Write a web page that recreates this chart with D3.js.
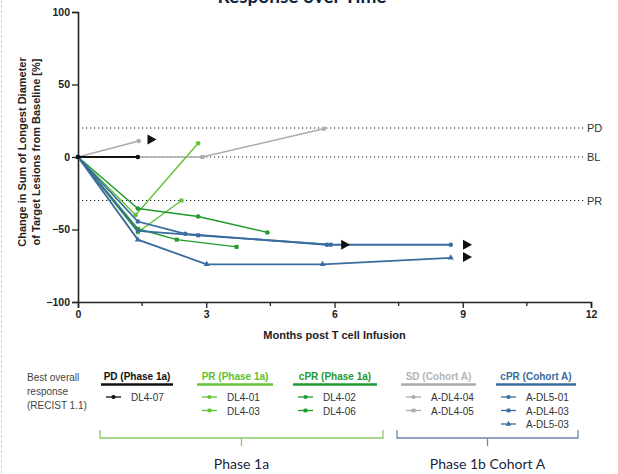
<!DOCTYPE html>
<html>
<head>
<meta charset="utf-8">
<script src="https://cdn.jsdelivr.net/npm/d3@7"></script>
<style>
  body { margin: 0; background: #fff; }
  svg { display: block; font-family: "Liberation Sans", Arial, sans-serif; }
</style>
</head>
<body>
<div id="chart"></div>
<script>
// patients, grouped by best overall response
const seriesNames = ["DL4-07", "DL4-01", "DL4-03", "DL4-02", "DL4-06", "A-DL4-04", "A-DL4-05", "A-DL5-01", "A-DL4-03", "A-DL5-03"];
const seriesGroups = ["PD", "PR", "PR", "cPR1a", "cPR1a", "SD", "SD", "cPRA", "cPRA", "cPRA"];
const seriesMonths = [
  [0, 1.4],
  [0, 1.35, 2.81],
  [0, 1.4, 2.42],
  [0, 1.4, 2.81, 4.43],
  [0, 1.4, 2.31, 3.71],
  [0, 1.42],
  [0, 2.91, 5.75],
  [0, 1.4, 2.51, 5.82, 8.72],
  [0, 1.4, 2.81, 5.91],
  [0, 1.4, 3.01, 5.72, 8.72]
];
const seriesValues = [
  [0, 0],
  [0, -40, 9.5],
  [0, -52, -30],
  [0, -35.5, -41, -52],
  [0, -49.5, -57, -62],
  [0, 11],
  [0, 0, 19.5],
  [0, -44.5, -53, -60.5, -60.5],
  [0, -51, -54, -60.5],
  [0, -57, -74, -74, -69.5]
];
// ongoing-response arrows
const arrowMonths = [1.72, 6.25, 9.1, 9.1];
const arrowValues = [12, -60.5, -60.5, -69];

// reference lines
const refLabels = ["PD", "BL", "PR"];
const refValues = [20, 0, -30];

const xTicks = [0, 3, 6, 9, 12];
const xMinorTicks = [1.5, 4.5, 7.5, 10.5];
const yTicks = [-100, -50, 0, 50, 100];

// legend columns
const legendGroups = ["PD", "PR", "cPR1a", "SD", "cPRA"];
const legendTitles = ["PD (Phase 1a)", "PR (Phase 1a)", "cPR (Phase 1a)", "SD (Cohort A)", "cPR (Cohort A)"];
const groupColors = { PD: "#111111", PR: "#62c236", cPR1a: "#1f9a2c", SD: "#ababab", cPRA: "#3a6ca0" };
const titleColors = { PD: "#111111", PR: "#5cc22f", cPR1a: "#1f9a2c", SD: "#b5b5b5", cPRA: "#3a6ca0" };
// order the lines are painted in (gray underneath, black on top)
const drawOrder = ["SD", "PR", "cPR1a", "cPRA", "PD"];

const width = 618, height = 474;
const svg = d3.select("#chart").append("svg").attr("width", width).attr("height", height);

// faint left border seen in the picture
svg.append("line").attr("x1", 1.5).attr("x2", 1.5).attr("y1", 0).attr("y2", height)
  .attr("stroke", "#cfcfcf").attr("stroke-dasharray", "3,2");

const x = d3.scaleLinear().domain([0, 12]).range([78, 591]);
const y = d3.scaleLinear().domain([-100, 100]).range([302, 12]);

// title (clipped at the top, as in the source)
svg.append("text").attr("x", 302).attr("y", 3).attr("text-anchor", "middle")
  .attr("font-family", "Lato, 'Open Sans', sans-serif").attr("font-weight", "bold")
  .attr("font-size", 19).attr("fill", "#0e1f45").text("Response over Time");

// reference lines
refValues.forEach((v, i) => {
  svg.append("line").attr("x1", x(0)).attr("x2", 585).attr("y1", y(v)).attr("y2", y(v))
    .attr("stroke", "#222").attr("stroke-width", 1.2).attr("stroke-dasharray", "1.2,2.8");
  svg.append("text").attr("x", 587).attr("y", y(v) + 4).attr("font-size", 11).attr("fill", "#333")
    .text(refLabels[i]);
});

// axes
const yAxis = svg.append("g").attr("transform", `translate(${x(0)},0)`)
  .call(d3.axisLeft(y).tickValues(yTicks).tickSize(6).tickPadding(2));
const xAxis = svg.append("g").attr("transform", `translate(0,${y(-100)})`)
  .call(d3.axisBottom(x).tickValues(xTicks).tickSize(6).tickPadding(3));
xAxis.selectAll(".minor").data(xMinorTicks).enter().append("line")
  .attr("x1", d => x(d)).attr("x2", d => x(d)).attr("y1", 0).attr("y2", 4)
  .attr("stroke", "#222").attr("stroke-width", 1.3);
[yAxis, xAxis].forEach(g => {
  g.select(".domain").attr("stroke", "#222").attr("stroke-width", 1.6);
  g.selectAll(".tick line").attr("stroke", "#222").attr("stroke-width", 1.3);
  g.selectAll(".tick text").attr("font-size", 10.5).attr("font-weight", "bold").attr("fill", "#222")
    .attr("font-family", "'Liberation Sans', Arial, sans-serif");
});

// axis titles
svg.append("text").attr("x", x(6)).attr("y", 339).attr("text-anchor", "middle")
  .attr("font-size", 11).attr("font-weight", "bold").attr("fill", "#222").text("Months post T cell Infusion");
const yt = svg.append("text").attr("transform", "translate(26,152) rotate(-90)").attr("text-anchor", "middle")
  .attr("font-size", 11).attr("font-weight", "bold").attr("fill", "#222");
yt.append("tspan").attr("x", 0).attr("dy", 0).text("Change in Sum of Longest Diameter");
yt.append("tspan").attr("x", 0).attr("dy", 14).text("of Target Lesions from Baseline [%]");

// symbols per position within a group
const markerTypes = [d3.symbolCircle, d3.symbolSquare, d3.symbolTriangle];
function markerIndex(i) {
  return seriesGroups.slice(0, i).filter(g => g === seriesGroups[i]).length;
}

const line = d3.line().x(d => x(d[0])).y(d => y(d[1]));
drawOrder.forEach(grp => {
  seriesNames.forEach((name, i) => {
    if (seriesGroups[i] !== grp) return;
    const pts = seriesMonths[i].map((m, j) => [m, seriesValues[i][j]]);
    const col = groupColors[grp];
    const g = svg.append("g");
    g.append("path").datum(pts).attr("d", line).attr("fill", "none")
      .attr("stroke", col).attr("stroke-width", grp === "cPRA" || grp === "PD" ? 1.8 : 1.4);
    g.selectAll("path.pt").data(pts).enter().append("path").attr("class", "pt")
      .attr("transform", d => `translate(${x(d[0])},${y(d[1])})`)
      .attr("d", d3.symbol().type(markerTypes[markerIndex(i)]).size(16)).attr("fill", col);
  });
});

// arrows
arrowMonths.forEach((m, i) => {
  const cx = x(m), cy = y(arrowValues[i]);
  svg.append("path").attr("d", `M${cx - 4},${cy - 5}L${cx + 5},${cy}L${cx - 4},${cy + 5}Z`).attr("fill", "#111");
});

// legend
svg.append("text").attr("x", 27).attr("y", 381).attr("font-size", 10).attr("fill", "#444")
  .selectAll("tspan").data(["Best overall", "response", "(RECIST 1.1)"]).enter().append("tspan")
  .attr("x", 27).attr("dy", (d, i) => i === 0 ? 0 : 14).text(d => d);

const colX = [101, 197, 293, 401, 496];
const colW = [72, 76, 84, 75, 80];
legendGroups.forEach((grp, k) => {
  const cx = colX[k];
  svg.append("text").attr("x", cx + colW[k] / 2).attr("y", 380).attr("text-anchor", "middle")
    .attr("font-size", 10).attr("font-weight", "bold").attr("fill", titleColors[grp]).text(legendTitles[k]);
  svg.append("line").attr("x1", cx).attr("x2", cx + colW[k]).attr("y1", 384.5).attr("y2", 384.5)
    .attr("stroke", grp === "PD" ? "#111" : groupColors[grp]).attr("stroke-width", 2.5);
  seriesNames.forEach((name, i) => {
    if (seriesGroups[i] !== grp) return;
    const r = markerIndex(i);
    const ly = 397 + r * 13.5;
    svg.append("line").attr("x1", cx + 5).attr("x2", cx + 20).attr("y1", ly).attr("y2", ly)
      .attr("stroke", groupColors[grp]).attr("stroke-width", 1.3);
    svg.append("path").attr("transform", `translate(${cx + 12.5},${ly})`)
      .attr("d", d3.symbol().type(markerTypes[r]).size(14)).attr("fill", groupColors[grp]);
    svg.append("text").attr("x", cx + 30).attr("y", ly + 4).attr("font-size", 10).attr("fill", "#333").text(name);
  });
});

// phase brackets
function bracket(x0, x1, col, label) {
  const mid = (x0 + x1) / 2;
  svg.append("path").attr("d", `M${x0},430V438H${x1}V430M${mid},438V446`)
    .attr("fill", "none").attr("stroke", col).attr("stroke-width", 1.3);
  svg.append("text").attr("x", mid).attr("y", 469).attr("text-anchor", "middle")
    .attr("font-family", "Lato, 'Open Sans', sans-serif").attr("font-size", 14).attr("fill", "#1a2540").text(label);
}
bracket(100, 383, "#8bc96b", "Phase 1a");
bracket(397, 578, "#6f87a8", "Phase 1b Cohort A");
</script>
</body>
</html>
